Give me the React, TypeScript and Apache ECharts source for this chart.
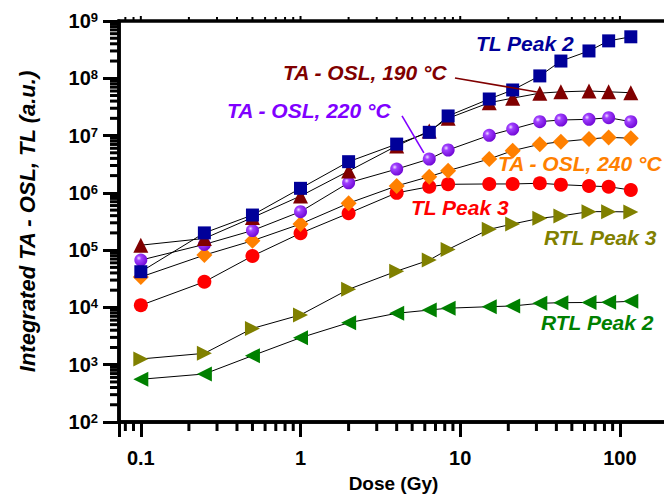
import React, { useEffect, useRef } from 'react';
import * as echarts from 'echarts';

// Dose values (Gy)
const doses = [0.1, 0.25, 0.5, 1, 2, 4, 6.4, 8.4, 15.2, 21.3, 31.5, 42.7, 64, 85, 117];

// Series values (a.u.)
const tlPeak2 = [4.2e4, 2.0e5, 4.1e5, 1.2e6, 3.5e6, 7.1e6, 1.14e7, 2.2e7, 4.35e7, 6.25e7, 1.1e8, 2.0e8, 3.0e8, 4.5e8, 5.3e8];
const taOsl190 = [1.22e5, 1.6e5, 3.7e5, 8.8e5, 2.4e6, 6.6e6, 1.2e7, 2.0e7, 3.75e7, 4.5e7, 5.5e7, 5.8e7, 6.0e7, 5.8e7, 5.6e7];
const taOsl220 = [6.7e4, 1.26e5, 2.2e5, 4.7e5, 1.5e6, 2.6e6, 3.9e6, 5.6e6, 1.01e7, 1.3e7, 1.75e7, 1.87e7, 1.92e7, 2.05e7, 1.75e7];
const taOsl240 = [3.4e4, 8.2e4, 1.46e5, 2.86e5, 6.6e5, 1.32e6, 1.92e6, 2.44e6, 3.9e6, 5.45e6, 7.05e6, 7.8e6, 8.7e6, 9.3e6, 9.0e6];
const tlPeak3 = [1.09e4, 2.8e4, 7.9e4, 1.97e5, 4.4e5, 1.0e6, 1.28e6, 1.41e6, 1.43e6, 1.43e6, 1.47e6, 1.39e6, 1.32e6, 1.28e6, 1.12e6];
const rtlPeak3 = [1.26e3, 1.58e3, 4.3e3, 7.4e3, 2.07e4, 4.3e4, 6.7e4, 1.03e5, 2.31e5, 2.86e5, 3.6e5, 3.95e5, 4.7e5, 4.7e5, 4.65e5];
const rtlPeak2 = [557, 689, 1.44e3, 2.96e3, 5.4e3, 7.9e3, 9.0e3, 9.7e3, 1.03e4, 1.06e4, 1.18e4, 1.21e4, 1.22e4, 1.23e4, 1.28e4];

// Axis ranges and tick values
const xRange = [0.073, 200];
const yRange = [100, 1e9];
const xMajorTicks = [0.1, 1, 10, 100];
const xMinorTicks = [0.08, 0.09, 0.2, 0.3, 0.4, 0.5, 0.6, 0.7, 0.8, 0.9, 2, 3, 4, 5, 6, 7, 8, 9, 20, 30, 40, 50, 60, 70, 80, 90];
const yMajorTicks = [100, 1e3, 1e4, 1e5, 1e6, 1e7, 1e8, 1e9];
const yMinorMultipliers = [2, 3, 4, 5, 6, 7, 8, 9];

// Annotation arrows (data coordinates)
const arrow190 = [[9.27, 1.01e8], [30.2, 5.77e7]];
const arrow220 = [[4.32, 2.2e7], [5.92, 4.97e6]];

const FONT = 'Arial, "Liberation Sans", Helvetica, sans-serif';
const INK = '#000';

export default function App() {
  const ref = useRef<HTMLDivElement>(null);

  useEffect(() => {
    const chart = echarts.init(ref.current as HTMLDivElement, null, { renderer: 'svg' });

    const yMinorTicks: number[] = [];
    yMajorTicks.slice(0, -1).forEach((d) => yMinorMultipliers.forEach((m) => yMinorTicks.push(d * m)));

    const pair = (ys: number[]) => doses.map((d, i) => [d, ys[i]]);

    const seriesDefs = [
      { name: 'RTL Peak 2', data: rtlPeak2, symbol: 'triangle', rotate: 90, color: '#008000', size: 15 },
      { name: 'RTL Peak 3', data: rtlPeak3, symbol: 'triangle', rotate: -90, color: '#808000', size: 15 },
      { name: 'TL Peak 3', data: tlPeak3, symbol: 'circle', rotate: 0, color: '#ff0000', size: 14 },
      { name: 'TA - OSL, 240 °C', data: taOsl240, symbol: 'diamond', rotate: 0, color: '#ff8000', size: 16 },
      {
        name: 'TA - OSL, 220 °C', data: taOsl220, symbol: 'circle', rotate: 0, size: 13,
        color: {
          type: 'radial', x: 0.35, y: 0.35, r: 0.75,
          colorStops: [
            { offset: 0, color: '#f0e0ff' },
            { offset: 0.25, color: '#a040ff' },
            { offset: 1, color: '#6a00d0' },
          ],
        },
      },
      { name: 'TA - OSL, 190 °C', data: taOsl190, symbol: 'triangle', rotate: 0, color: '#800000', size: 15 },
      { name: 'TL Peak 2', data: tlPeak2, symbol: 'rect', rotate: 0, color: '#000099', size: 13 },
    ];

    const lineSeries = seriesDefs.map((s) => ({
      type: 'line',
      name: s.name + ' line',
      data: pair(s.data),
      symbol: 'none',
      lineStyle: { color: '#000', width: 1 },
      z: 2,
      silent: true,
    }));

    const markerSeries = seriesDefs.map((s) => ({
      type: 'scatter',
      name: s.name,
      data: pair(s.data),
      symbol: s.symbol,
      symbolRotate: s.rotate,
      symbolSize: s.size,
      itemStyle: { color: s.color, opacity: 1 },
      z: 3,
      silent: true,
    }));

    const isPow10 = (v: number) => Math.abs(Math.log10(v) - Math.round(Math.log10(v))) < 1e-6;

    const arrowLine = (pts: number[][], color: string) => ({
      type: 'scatter',
      data: [],
      z: 4,
      silent: true,
      markLine: {
        silent: true,
        animation: false,
        symbol: ['none', 'arrow'],
        symbolSize: [0, 11],
        label: { show: false },
        lineStyle: { color, width: 1.6, type: 'solid' },
        data: [[{ coord: pts[0] }, { coord: pts[1] }]],
      },
    });

    const textStyle = (color: string) => ({
      fill: color,
      fontSize: 21,
      fontWeight: 'bold',
      fontStyle: 'italic',
      fontFamily: FONT,
      verticalAlign: 'middle',
    });

    const labels = [
      { text: 'TL Peak 2', x: 476, y: 43, color: '#000099' },
      { text: 'TA - OSL, 190 °C', x: 283, y: 72, color: '#800000' },
      { text: 'TA - OSL, 220 °C', x: 227, y: 110, color: '#8000ff' },
      { text: 'TA - OSL, 240 °C', x: 498, y: 163, color: '#ff8000' },
      { text: 'TL Peak 3', x: 411, y: 207, color: '#ff0000' },
      { text: 'RTL Peak 3', x: 544, y: 237, color: '#808000' },
      { text: 'RTL Peak 2', x: 541, y: 322, color: '#008000' },
    ];

    const option: any = {
      animation: false,
      backgroundColor: '#fff',
      grid: {
        left: 119, top: 21, width: 549, height: 401,
        outerBoundsMode: 'none',
        show: true, borderColor: INK, borderWidth: 3.5, backgroundColor: 'transparent',
      },
      xAxis: {
        type: 'log',
        min: xRange[0],
        max: xRange[1],
        axisLine: { lineStyle: { color: INK, width: 3.5 } },
        axisTick: { show: true, length: 15, lineStyle: { color: INK, width: 3 } },
        splitLine: { show: false },
        axisLabel: {
          formatter: (v: number) => (isPow10(v) ? String(Number(v.toPrecision(3))) : ''),
          fontSize: 20,
          fontWeight: 'bold',
          fontFamily: FONT,
          color: '#000',
          margin: 26,
        },
        name: 'Dose (Gy)',
        nameLocation: 'middle',
        nameGap: 52,
        nameTextStyle: { fontSize: 19, fontWeight: 'bold', fontFamily: FONT, color: '#000' },
      },
      yAxis: {
        type: 'log',
        min: yRange[0],
        max: yRange[1],
        axisLine: { lineStyle: { color: INK, width: 3.5 } },
        axisTick: { show: true, length: 16, lineStyle: { color: INK, width: 3 } },
        splitLine: { show: false },
        axisLabel: {
          formatter: (v: number) => '10{sup|' + Math.round(Math.log10(v)) + '}',
          fontSize: 20,
          fontWeight: 'bold',
          fontFamily: FONT,
          color: '#000',
          margin: 21,
          rich: {
            sup: { fontSize: 13, fontWeight: 'bold', fontFamily: FONT, color: '#000', verticalAlign: 'top', padding: [0, 0, 6, 0] },
          },
        },
        name: 'Integrated TA - OSL, TL (a.u.)',
        nameLocation: 'middle',
        nameGap: 81,
        nameTextStyle: { fontSize: 22, fontWeight: 'bold', fontStyle: 'italic', fontFamily: FONT, color: '#000' },
      },
      series: [
        ...lineSeries,
        ...markerSeries,
        arrowLine(arrow190, '#800000'),
        arrowLine(arrow220, '#8000ff'),
      ],
    };

    chart.setOption(option);

    // Minor ticks and top-frame ticks placed through the chart's own log scales
    const toPx = (x: number, y: number): number[] => {
      const p = chart.convertToPixel({ gridIndex: 0 } as any, [x, y]) as any;
      return [Number(p[0]), Number(p[1])];
    };
    const corner = toPx(xRange[0], yRange[0]);
    const left = corner[0];
    const bottom = corner[1];
    const top = toPx(xRange[0], yRange[1])[1];

    const rect = (x: number, y: number, width: number, height: number) => ({
      type: 'rect',
      shape: { x, y, width, height },
      style: { fill: INK },
    });

    const elements: any[] = [];
    xMinorTicks.forEach((v) => {
      const px = toPx(v, 1e5)[0];
      elements.push(rect(px - 1.5, bottom, 3, 9));
      elements.push(rect(px - 1, top - 4, 2, 3));
    });
    xMajorTicks.forEach((v) => {
      const px = toPx(v, 1e5)[0];
      elements.push(rect(px - 1, top - 5, 2, 4));
    });
    yMinorTicks.forEach((v) => {
      const py = toPx(1, v)[1];
      elements.push(rect(left - 9, py - 1.5, 9, 3));
    });

    labels.forEach((l) => {
      elements.push({
        type: 'text',
        x: l.x,
        y: l.y,
        z: 60,
        silent: true,
        style: { text: l.text, ...textStyle(l.color) },
      });
    });

    chart.setOption({ graphic: { elements } });

    return () => chart.dispose();
  }, []);

  return <div ref={ref} style={{ position: 'absolute', left: 0, top: 0, width: 664, height: 497 }} />;
}
